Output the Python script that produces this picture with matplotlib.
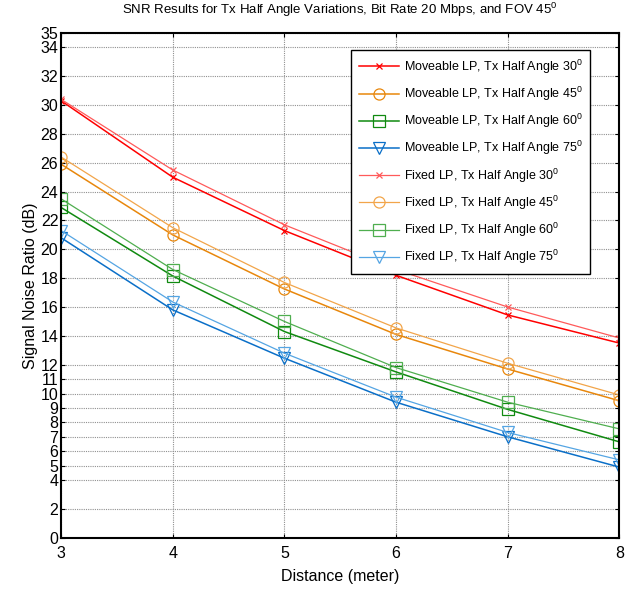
import numpy as np
import matplotlib
matplotlib.use('Agg')
import matplotlib.pyplot as plt

plt.rcParams['font.family'] = ['Liberation Sans', 'DejaVu Sans']
plt.rcParams['mathtext.fontset'] = 'custom'
plt.rcParams['mathtext.rm'] = 'Liberation Sans'

# Distance (meter)
distance = [3, 4, 5, 6, 7, 8]

# SNR (dB), moveable LP
mov_30 = [30.3, 25.0, 21.3, 18.2, 15.45, 13.5]
mov_45 = [25.9, 21.0, 17.25, 14.1, 11.7, 9.5]
mov_60 = [22.9, 18.15, 14.3, 11.5, 8.9, 6.65]
mov_75 = [20.8, 15.8, 12.45, 9.4, 7.0, 4.9]

# SNR (dB), fixed LP
fix_30 = [30.4, 25.5, 21.7, 18.6, 16.0, 13.85]
fix_45 = [26.4, 21.5, 17.7, 14.55, 12.1, 9.9]
fix_60 = [23.5, 18.6, 15.0, 11.8, 9.4, 7.55]
fix_75 = [21.3, 16.35, 12.8, 9.75, 7.3, 5.4]

angles = [30, 45, 60, 75]
yticks = [0, 2, 4, 5, 6, 7, 8, 9, 10, 11, 12, 14, 16, 18, 20, 22, 24, 26, 28, 30, 32, 34, 35]

markers = ['x', 'o', 's', 'v']
dark = ['#ff0000', '#e8870c', '#108a10', '#0a6fc8']
light = ['#ff5a5a', '#f2a54a', '#4fae4f', '#55a5e3']

fig = plt.figure(figsize=(6.3, 5.89), dpi=100)
ax = fig.add_axes([0.097, 0.087, 0.886, 0.857])

for i, (ang, y) in enumerate(zip(angles, [mov_30, mov_45, mov_60, mov_75])):
    ax.plot(distance, y, color=dark[i], marker=markers[i], lw=1.1, ms=8 if markers[i] != 'x' else 5,
            mfc='none', mew=0.9,
            label='Moveable LP, Tx Half Angle %d$^{0}$' % ang)
for i, (ang, y) in enumerate(zip(angles, [fix_30, fix_45, fix_60, fix_75])):
    ax.plot(distance, y, color=light[i], marker=markers[i], lw=0.9, ms=8 if markers[i] != 'x' else 5,
            mfc='none', mew=0.9,
            label='Fixed LP, Tx Half Angle %d$^{0}$' % ang)

ax.set_xlim(3, 8)
ax.set_ylim(0, 35)
ax.set_xticks(distance)
ax.set_yticks(yticks)
ax.tick_params(direction='in', length=3, labelsize=11.5, top=True, right=True, pad=2)
ax.tick_params(axis='x', pad=6)
ax.grid(True, color='#909090', linestyle=(0, (1, 1)), linewidth=0.8)
for s in ax.spines.values():
    s.set_linewidth(1.5)

ax.set_xlabel('Distance (meter)', fontsize=11.5, labelpad=6)
ax.set_ylabel('Signal Noise Ratio (dB)', fontsize=11.5, labelpad=2)
ax.set_title('SNR Results for Tx Half Angle Variations, Bit Rate 20 Mbps, and FOV 45$^{0}$',
             fontsize=9.5, pad=14)

leg = ax.legend(loc='upper right', bbox_to_anchor=(0.948, 0.966), borderaxespad=0,
                fontsize=9, fancybox=False, framealpha=1, edgecolor='black',
                handlelength=3.2, labelspacing=0.72, borderpad=0.6, handletextpad=0.4)
leg.get_frame().set_linewidth(1.0)

plt.savefig('out.png', dpi=100)
plt.close('all')
